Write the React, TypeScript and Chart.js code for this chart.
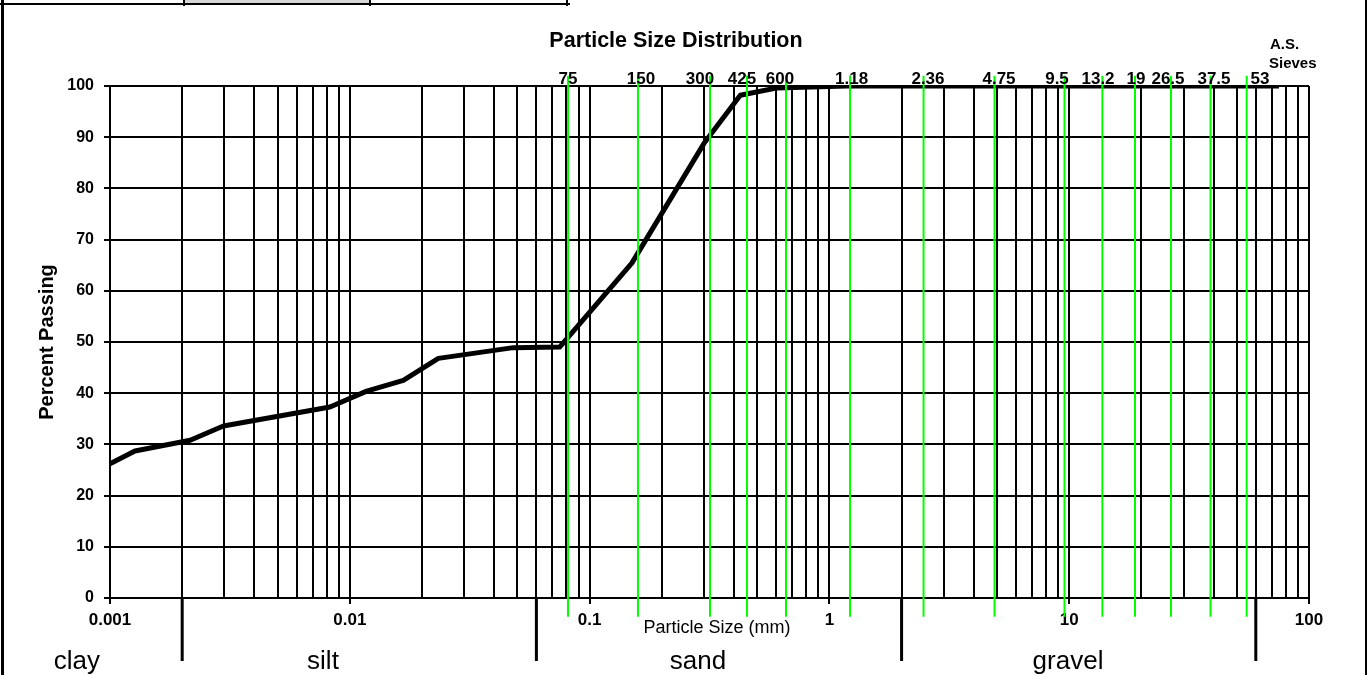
import React, { useEffect, useRef } from "react";
import { Chart, registerables } from "chart.js";

Chart.register(...registerables);

// ---------- data ----------
const chartTitle = "Particle Size Distribution";
const yAxisTitle = "Percent Passing";
const xAxisTitle = "Particle Size (mm)";
const sieveHeader = ["A.S.", "Sieves"];

// hydrometer part of the grading curve (mm, % passing)
const hydroSizes = [0.001, 0.00127, 0.00216, 0.00297, 0.00827, 0.01176, 0.01672, 0.0234, 0.0481];
const hydroPassing = [26.2, 28.7, 30.8, 33.6, 37.3, 40.4, 42.5, 46.8, 48.9];

// sieve part of the grading curve (mm, % passing)
const sieveSizes = [0.075, 0.15, 0.3, 0.425, 0.6, 1.18, 2.36, 4.75, 9.5, 13.2, 19, 26.5, 37.5, 53, 75];
const sievePassing = [49.0, 65.4, 88.8, 98.2, 99.6, 100, 100, 100, 100, 100, 100, 100, 100, 100, 100];

// A.S. sieve marker lines (as drawn) and their labels
const sieveLabels = ["75", "150", "300", "425", "600", "1.18", "2.36", "4.75", "9.5", "13.2", "19", "26.5", "37.5", "53"];
const sieveLinePos = [0.0813, 0.1591, 0.3178, 0.4533, 0.6592, 1.219, 2.47, 4.881, 9.559, 13.75, 18.81, 26.58, 38.84, 54.98];
const sieveLabelPos = [0.0813, 0.1637, 0.2887, 0.4318, 0.6223, 1.238, 2.577, 5.097, 8.894, 13.19, 18.99, 25.82, 40.16, 62.48];
const sieveLineBottom = -3.65;
const sieveLineTop = 102;

// soil classification
const soilBoundaries = [0.002, 0.06, 2, 60];
const soilBoundaryDepth = -12.3;
const soilNames = ["clay", "silt", "sand", "gravel"];
const soilLabelPos = [0.000728, 0.00773, 0.2831, 9.886];

// axes
const xDecades = [0.001, 0.01, 0.1, 1, 10, 100];
const xTickLabels = ["0.001", "0.01", "0.1", "1", "10", "100"];
const yMin = 0;
const yMax = 100;
const yStep = 10;

// ---------- helpers ----------
const FONT = '"Liberation Sans", Arial, Helvetica, sans-serif';

const gridValues: number[] = [];
xDecades.forEach((d, i) => {
  if (i === xDecades.length - 1) {
    gridValues.push(d);
  } else {
    for (let m = 1; m <= 9; m++) gridValues.push(m * d);
  }
});

function decadeIndex(v: number): number {
  return xDecades.findIndex((d) => Math.abs(v - d) / d < 1e-6);
}

const gradation = [
  ...hydroSizes.map((x, i) => ({ x, y: hydroPassing[i] })),
  ...sieveSizes.map((x, i) => ({ x, y: sievePassing[i] })),
];

const textPlugin = {
  id: "psdText",
  afterDraw(chart: any) {
    const { ctx, chartArea } = chart;
    const xs = chart.scales.x;
    ctx.save();
    ctx.fillStyle = "#000";

    // title
    ctx.font = `bold 21.5px ${FONT}`;
    ctx.textAlign = "center";
    ctx.textBaseline = "middle";
    ctx.fillText(chartTitle, chart.width / 2, chartArea.top - 45);

    // sieve labels
    ctx.font = `bold 17px ${FONT}`;
    ctx.textBaseline = "alphabetic";
    sieveLabels.forEach((t, i) => {
      ctx.fillText(t, xs.getPixelForValue(sieveLabelPos[i]), chartArea.top - 2.5);
    });

    // A.S. Sieves
    ctx.font = `bold 15px ${FONT}`;
    ctx.textAlign = "left";
    ctx.fillText(sieveHeader[0], chartArea.right - 39, chartArea.top - 37.5);
    ctx.fillText(sieveHeader[1], chartArea.right - 40, chartArea.top - 17.7);

    // x axis title
    ctx.font = `18px ${FONT}`;
    ctx.textAlign = "center";
    ctx.textBaseline = "middle";
    ctx.fillText(xAxisTitle, (chartArea.left + chartArea.right) / 2 + 7.5, chartArea.bottom + 30);

    // soil names
    ctx.font = `26px ${FONT}`;
    ctx.textBaseline = "alphabetic";
    soilNames.forEach((t, i) => {
      ctx.fillText(t, xs.getPixelForValue(soilLabelPos[i]), chartArea.bottom + 71);
    });

    ctx.restore();
  },
};

const CANVAS_W = 1352;
const CANVAS_H = 675;

export default function App() {
  const canvasRef = useRef<HTMLCanvasElement | null>(null);

  useEffect(() => {
    if (!canvasRef.current) return;
    const datasets: any[] = [];
    sieveLinePos.forEach((v) => {
      datasets.push({
        data: [
          { x: v, y: sieveLineBottom },
          { x: v, y: sieveLineTop },
        ],
        borderColor: "#00ff00",
        borderWidth: 2,
        pointRadius: 0,
        fill: false,
        clip: false,
        order: 0,
      });
    });
    datasets.push({
      data: gradation,
      borderColor: "#000",
      borderWidth: 5,
      pointRadius: 0,
      fill: false,
      tension: 0,
      borderJoinStyle: "round",
      borderCapStyle: "butt",
      order: 1,
    });
    soilBoundaries.forEach((v) => {
      datasets.push({
        data: [
          { x: v, y: yMin },
          { x: v, y: soilBoundaryDepth },
        ],
        borderColor: "#000",
        borderWidth: 3,
        pointRadius: 0,
        fill: false,
        clip: false,
        order: 2,
      });
    });

    const chart = new Chart(canvasRef.current, {
      type: "line",
      data: { datasets },
      plugins: [textPlugin],
      options: {
        responsive: false,
        animation: false,
        events: [],
        layout: { padding: { top: 86, left: 0, right: CANVAS_W - 1309, bottom: 0 } },
        plugins: {
          legend: { display: false },
          tooltip: { enabled: false },
          title: { display: false },
        },
        scales: {
          x: {
            type: "logarithmic",
            min: xDecades[0],
            max: xDecades[xDecades.length - 1],
            afterBuildTicks: (scale: any) => {
              scale.ticks = gridValues.map((v) => ({ value: v }));
            },
            afterFit: (scale: any) => {
              scale.height = CANVAS_H - 598;
            },
            ticks: {
              autoSkip: false,
              maxRotation: 0,
              minRotation: 0,
              padding: 6,
              color: "#000",
              font: { family: FONT, size: 17, weight: "bold" },
              callback: (value: any) => {
                const i = decadeIndex(Number(value));
                return i >= 0 ? xTickLabels[i] : "";
              },
            },
            grid: {
              color: "#000",
              lineWidth: 2,
              drawTicks: true,
              tickLength: 6,
              tickColor: (c: any) =>
                c.tick && decadeIndex(c.tick.value) >= 0 ? "#000" : "rgba(0,0,0,0)",
            },
            border: { color: "#000", width: 2 },
          },
          y: {
            type: "linear",
            min: yMin,
            max: yMax,
            afterFit: (scale: any) => {
              scale.width = 110;
            },
            ticks: {
              stepSize: yStep,
              padding: 10,
              color: "#000",
              font: { family: FONT, size: 16, weight: "bold" },
            },
            grid: {
              color: "#000",
              lineWidth: 2,
              drawTicks: true,
              tickLength: 6,
              tickColor: "#000",
            },
            border: { color: "#000", width: 2 },
            title: {
              display: true,
              text: yAxisTitle,
              color: "#000",
              font: { family: FONT, size: 20, weight: "bold" },
              padding: { top: 35, bottom: 0 },
            },
          },
        },
      } as any,
    });
    return () => chart.destroy();
  }, []);

  return (
    <div
      style={{
        position: "absolute",
        left: 0,
        top: 0,
        width: 1368,
        height: 675,
        overflow: "hidden",
        background: "#fff",
      }}
    >
      <canvas
        ref={canvasRef}
        width={CANVAS_W}
        height={CANVAS_H}
        style={{ position: "absolute", left: 0, top: 0, width: CANVAS_W, height: CANVAS_H }}
      />
      {/* page frame */}
      <div style={{ position: "absolute", left: 1, top: 0, width: 3, height: 675, background: "#000" }} />
      <div style={{ position: "absolute", left: 1365, top: 0, width: 2, height: 675, background: "#000" }} />
      {/* fragment of the header table above the chart */}
      <div style={{ position: "absolute", left: 185, top: 0, width: 184, height: 3, background: "#d6d6d6" }} />
      <div style={{ position: "absolute", left: 0, top: 3, width: 570, height: 2, background: "#000" }} />
      <div style={{ position: "absolute", left: 183, top: 0, width: 2, height: 6, background: "#000" }} />
      <div style={{ position: "absolute", left: 369, top: 0, width: 2, height: 6, background: "#000" }} />
      <div style={{ position: "absolute", left: 566, top: 0, width: 2, height: 6, background: "#000" }} />
    </div>
  );
}
